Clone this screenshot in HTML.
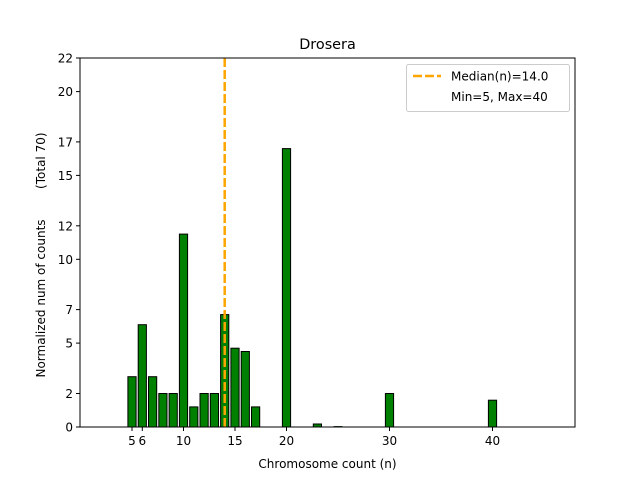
<!DOCTYPE html>
<html><head><style>body{margin:0;background:#fff}svg{display:block}text{font-family:"DejaVu Sans","Liberation Sans",sans-serif;font-size:12px;fill:#000}</style></head><body>
<svg width="640" height="480" xmlns="http://www.w3.org/2000/svg">
<g fill="#008000" stroke="#000" stroke-width="1">
<rect x="127.9" y="376.7" width="8.2" height="50.3"/>
<rect x="138.2" y="324.7" width="8.2" height="102.3"/>
<rect x="148.5" y="376.7" width="8.2" height="50.3"/>
<rect x="158.8" y="393.5" width="8.2" height="33.5"/>
<rect x="169.1" y="393.5" width="8.2" height="33.5"/>
<rect x="179.4" y="234.1" width="8.2" height="192.9"/>
<rect x="189.7" y="406.9" width="8.2" height="20.1"/>
<rect x="200.0" y="393.5" width="8.2" height="33.5"/>
<rect x="210.3" y="393.5" width="8.2" height="33.5"/>
<rect x="220.6" y="314.6" width="8.2" height="112.4"/>
<rect x="230.9" y="348.2" width="8.2" height="78.8"/>
<rect x="241.2" y="351.5" width="8.2" height="75.5"/>
<rect x="251.5" y="406.9" width="8.2" height="20.1"/>
<rect x="282.4" y="148.6" width="8.2" height="278.4"/>
<rect x="313.3" y="424" width="8.2" height="3"/>
<rect x="333.9" y="426.2" width="8.2" height="0.8" stroke-width="0.3"/>
<rect x="385.4" y="393.5" width="8.2" height="33.5"/>
<rect x="488.4" y="400.2" width="8.2" height="26.8"/>
</g>
<line x1="224.7" y1="58" x2="224.7" y2="427" stroke="#FFA500" stroke-width="2.5" stroke-dasharray="9,3"/>
<rect x="80" y="58" width="495" height="369" fill="none" stroke="#000" stroke-width="1"/>
<g stroke="#000">
<line x1="132" y1="427" x2="132" y2="431"/><line x1="142.3" y1="427" x2="142.3" y2="431"/><line x1="183.5" y1="427" x2="183.5" y2="431"/><line x1="235" y1="427" x2="235" y2="431"/><line x1="286.5" y1="427" x2="286.5" y2="431"/><line x1="389.5" y1="427" x2="389.5" y2="431"/><line x1="492.5" y1="427" x2="492.5" y2="431"/>
<line x1="76" y1="427" x2="80" y2="427"/><line x1="76" y1="393.5" x2="80" y2="393.5"/><line x1="76" y1="343.1" x2="80" y2="343.1"/><line x1="76" y1="309.6" x2="80" y2="309.6"/><line x1="76" y1="259.3" x2="80" y2="259.3"/><line x1="76" y1="225.8" x2="80" y2="225.8"/><line x1="76" y1="175.4" x2="80" y2="175.4"/><line x1="76" y1="141.9" x2="80" y2="141.9"/><line x1="76" y1="91.6" x2="80" y2="91.6"/><line x1="76" y1="58" x2="80" y2="58"/>
</g>
<g text-anchor="middle">
<text x="132" y="445">5</text><text x="142.3" y="445">6</text><text x="183.5" y="445">10</text><text x="235" y="445">15</text><text x="286.5" y="445">20</text><text x="389.5" y="445">30</text><text x="492.5" y="445">40</text>
<text x="327.5" y="468">Chromosome count (n)</text>
<text x="327.5" y="49" style="font-size:14.4px">Drosera</text>
</g>
<g text-anchor="end">
<text x="73" y="431.5">0</text><text x="73" y="398">2</text><text x="73" y="347.6">5</text><text x="73" y="314.1">7</text><text x="73" y="263.8">10</text><text x="73" y="230.3">12</text><text x="73" y="179.9">15</text><text x="73" y="146.4">17</text><text x="73" y="96.1">20</text><text x="73" y="62.5">22</text>
</g>
<text transform="translate(45,255) rotate(-90)" text-anchor="middle" style="white-space:pre" xml:space="preserve">Normalized num of counts        (Total 70)</text>
<rect x="406.5" y="64.5" width="163" height="47" rx="2" fill="#fff" stroke="#ccc"/>
<line x1="413" y1="76" x2="441" y2="76" stroke="#FFA500" stroke-width="2.5" stroke-dasharray="9,3"/>
<text x="451" y="80.5">Median(n)=14.0</text>
<text x="451" y="101">Min=5, Max=40</text>
</svg>
</body></html>
